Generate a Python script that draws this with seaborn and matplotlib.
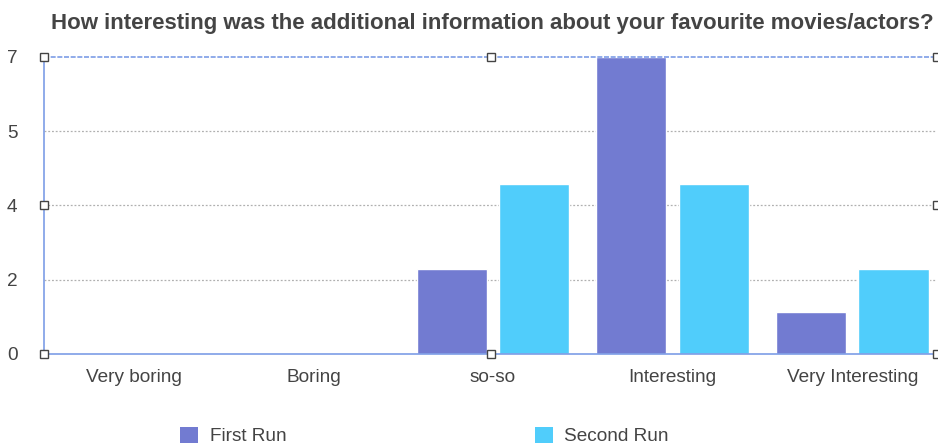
import matplotlib
matplotlib.use("Agg")
import matplotlib.pyplot as plt
import matplotlib.patches as mpatches
import seaborn as sns
import pandas as pd

categories = ["Very boring", "Boring", "so-so", "Interesting", "Very Interesting"]
first_run = [0, 0, 2, 7, 1]
second_run = [0, 0, 4, 4, 2]
series_names = ["First Run", "Second Run"]
y_tick_values = [0, 1.75, 3.5, 5.25, 7]
y_tick_labels = ["0", "2", "4", "5", "7"]
title = "How interesting was the additional information about your favourite movies/actors?"

colors = ["#727bd1", "#50cdfb"]
frame_blue = "#7d9de6"
text_gray = "#444444"

df = pd.DataFrame({
    "category": categories * 2,
    "count": first_run + second_run,
    "run": [series_names[0]] * len(categories) + [series_names[1]] * len(categories),
})

sns.set_style("white")
plt.rcParams["font.family"] = ["Liberation Sans", "DejaVu Sans"]

W, H = 938, 446
fig = plt.figure(figsize=(W / 100, H / 100), dpi=100)
ax = fig.add_axes([44 / W, 1 - 354 / H, (937 - 44) / W, (354 - 57) / H])

sns.barplot(data=df, x="category", y="count", hue="run", order=categories,
            hue_order=series_names, palette=colors, width=0.92, gap=0.15,
            saturation=1, legend=False, ax=ax, zorder=3)

ax.set_xlim(-0.5, 4.472)
ax.set_ylim(0, 7)
ax.set_yticks(y_tick_values)
ax.set_yticklabels(y_tick_labels)
ax.set_xlabel("")
ax.set_ylabel("")

for v in y_tick_values[1:-1]:
    ax.axhline(v, color="#b0b0b0", lw=0.9, ls=(0, (1.5, 1.5)), zorder=1)
ax.axhline(7, color=frame_blue, lw=1.2, ls=(0, (3, 1)), zorder=4, clip_on=False)

for side in ["top", "right"]:
    ax.spines[side].set_visible(False)
for side in ["left", "bottom"]:
    ax.spines[side].set_color(frame_blue)
    ax.spines[side].set_linewidth(1.2)
    ax.spines[side].set_zorder(4)

ax.tick_params(axis="y", length=0, pad=19, labelsize=13.7, labelcolor=text_gray)
ax.tick_params(axis="x", length=0, pad=11, labelsize=13.7, labelcolor=text_gray)

# resize handles around the plot frame
handle_pts = [(0, 1), (0.5, 1), (1, 1), (0, 0.5), (1, 0.5), (0, 0), (0.5, 0), (1, 0)]
for hx, hy in handle_pts:
    ax.plot([hx], [hy], marker="s", ms=6, mfc="white", mec="#444444", mew=1.0,
            transform=ax.transAxes, clip_on=False, zorder=6)

fig.text(492 / W, 1 - 23 / H, title, ha="center", va="center",
         fontsize=16, fontweight="bold", color=text_gray)

handles = [mpatches.Patch(facecolor=c, edgecolor="none") for c in colors]
fig.legend(handles, series_names, loc="center left", ncol=2,
           bbox_to_anchor=(167 / W, 1 - 436 / H), frameon=False, fontsize=13.7,
           handlelength=0.95, handleheight=0.95, handletextpad=0.6,
           columnspacing=13.06, labelcolor=text_gray, borderpad=0.2)

fig.savefig("out.png", dpi=100)
